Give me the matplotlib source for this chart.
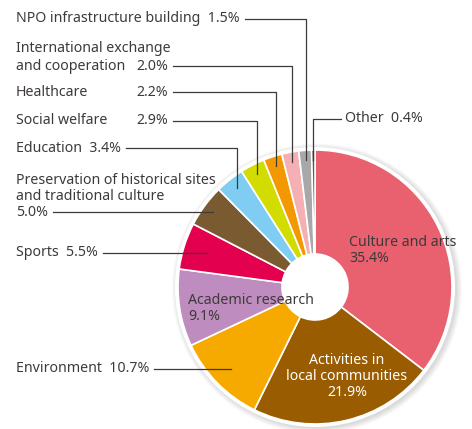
import matplotlib
matplotlib.use('Agg')
import matplotlib.pyplot as plt
from matplotlib.patches import Circle
import numpy as np

plt.rcParams['font.family'] = ['Noto Sans', 'DejaVu Sans']

W, H = 472, 429

# data, clockwise from 12 o'clock
categories = ['Culture and arts', 'Activities in\nlocal communities', 'Environment',
              'Academic research', 'Sports',
              'Preservation of historical sites\nand traditional culture',
              'Education', 'Social welfare', 'Healthcare',
              'International exchange\nand cooperation', 'NPO infrastructure building',
              'Other']
shares = [35.4, 21.9, 10.7, 9.1, 5.5, 5.0, 3.4, 2.9, 2.2, 2.0, 1.5, 0.4]
colors = ['#e9606f', '#9a5c00', '#f6aa00', '#be8cbf', '#e2004f', '#7a5a30',
          '#7fcdf2', '#d3dc00', '#f39800', '#f4b0b3', '#a8a8a8', '#595757']

TXT = '#3e3a39'
FS = 10.2

# pie geometry in pixels (from top-left)
cx, cy, R, r_hole = 315, 287, 137, 33

fig = plt.figure(figsize=(W / 100, H / 100), dpi=100)
ax = fig.add_axes([0, 0, 1, 1])

def py(y):
    return H - y

# soft shadow + white rim
for i in range(6):
    ax.add_patch(Circle((cx + 2, py(cy) - 1.5), R + 3 + i, color='black',
                        alpha=0.022, lw=0, zorder=0))
ax.add_patch(Circle((cx, py(cy)), R + 3, color='white', lw=0, zorder=0.5))

wedges, _ = ax.pie(shares, colors=colors, startangle=90, counterclock=False,
                   radius=R, center=(cx, py(cy)),
                   wedgeprops=dict(width=R - r_hole, edgecolor='white', linewidth=1.2))

ax.set_xlim(0, W)
ax.set_ylim(0, H)
ax.axis('off')

# labels inside the ring
ax.text(349, py(243), categories[0], color=TXT, fontsize=FS, va='center')
ax.text(349, py(259), f'{shares[0]}%', color=TXT, fontsize=FS, va='center')
ax.text(188, py(301), categories[3], color=TXT, fontsize=FS, va='center')
ax.text(188, py(317), f'{shares[3]}%', color=TXT, fontsize=FS, va='center')
act = categories[1].split('\n') + [f'{shares[1]}%']
for k, line in enumerate(act):
    ax.text(347, py(360 + 16 * k), line, color='white', fontsize=FS,
            va='center', ha='center')

# outside labels: index -> (line ys, layout, leader style, radius frac)
outside = {
    10: ([19], 'inline', 'v', 0.93),
    9: ([49, 66], 'split', 'v', 0.93),
    8: ([92], 'split', 'v', 0.93),
    7: ([121], 'split', 'v', 0.93),
    6: ([148], 'inline', 'v', 0.92),
    5: ([180, 196, 212], 'stack', 'h', None),
    4: ([253], 'inline', 'h', None),
    2: ([369], 'inline', 'h', None),
}
LX, PCT_X = 16, 168

fig.canvas.draw()
rend = fig.canvas.get_renderer()
inv = ax.transData.inverted()

for i, (ys, layout, style, frac) in outside.items():
    names = categories[i].split('\n')
    pct = f'{shares[i]}%'
    if layout == 'inline':
        names[-1] = names[-1] + '  ' + pct
    elif layout == 'stack':
        names = names + [pct]
    last = None
    for line, y in zip(names, ys):
        last = ax.text(LX, py(y), line, color=TXT, fontsize=FS, va='center')
    if layout == 'split':
        last = ax.text(PCT_X, py(ys[-1]), pct, color=TXT, fontsize=FS,
                       va='center', ha='right')
    bb = last.get_window_extent(rend)
    x0 = inv.transform((bb.x1, 0))[0] + 5
    ly = py(ys[-1])
    w = wedges[i]
    th = np.radians((w.theta1 + w.theta2) / 2)
    if style == 'v':
        ex = cx + frac * R * np.cos(th)
        ey = py(cy) + frac * R * np.sin(th)
        ax.plot([ex, ex, x0], [ey, ly, ly], color=TXT, lw=0.9, zorder=5)
    else:
        ex = cx + (ly - py(cy)) / np.tan(th)
        ax.plot([ex, x0], [ly, ly], color=TXT, lw=0.9, zorder=5)

# "Other" goes to the right
w = wedges[11]
th = np.radians((w.theta1 + w.theta2) / 2)
ex = cx + 0.93 * R * np.cos(th)
ey = py(cy) + 0.93 * R * np.sin(th)
ax.plot([ex, ex, 341], [ey, py(119), py(119)], color=TXT, lw=0.9, zorder=5)
ax.text(345, py(119), f'{categories[11]}  {shares[11]}%', color=TXT,
        fontsize=FS, va='center')

fig.savefig('out.png', dpi=100)
